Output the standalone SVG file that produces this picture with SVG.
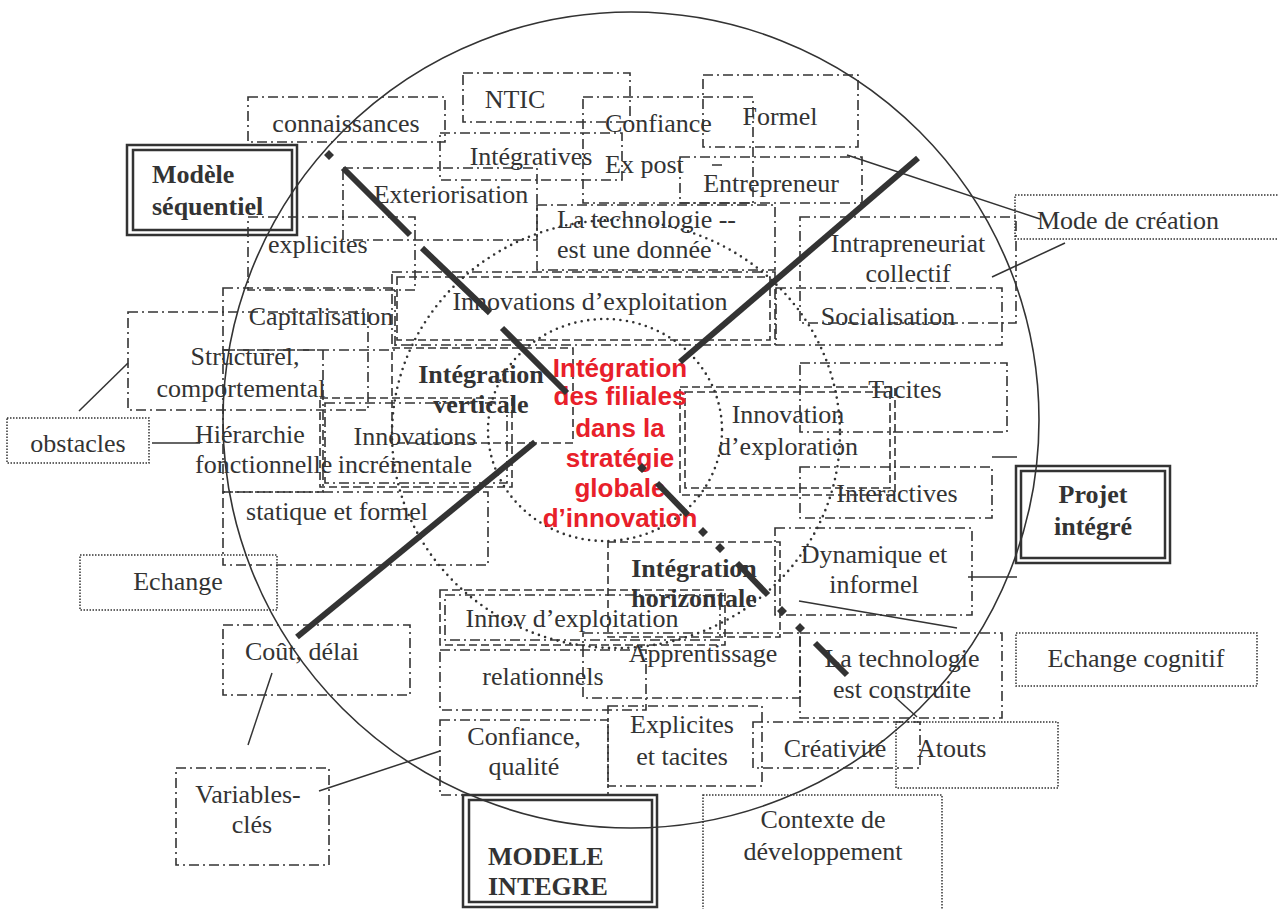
<svg xmlns="http://www.w3.org/2000/svg" width="1278" height="909" viewBox="0 0 1278 909">
<style>
.dd{fill:none;stroke:#333;stroke-width:1.6;stroke-dasharray:10 4 2 4}
.ds{fill:none;stroke:#333;stroke-width:1.6;stroke-dasharray:8 4}
.dt{fill:none;stroke:#333;stroke-width:1.5;stroke-dasharray:1.5 1.5}
.db{fill:none;stroke:#333;stroke-width:2.5}
.dots{fill:none;stroke:#333;stroke-width:2.6;stroke-linecap:round;stroke-dasharray:0 6.5}
.t{font-family:"Liberation Serif","Times New Roman",serif;font-size:26px;fill:#333}
.c{text-anchor:middle}
.b{font-weight:bold}
.r{font-family:"Liberation Sans",Arial,sans-serif;font-weight:bold;font-size:26px;fill:#e8202a;text-anchor:middle}
.thick{stroke:#333;stroke-width:6;fill:none}
.conn{stroke:#333;stroke-width:1.5;fill:none}
.dia{fill:#333}
</style>
<rect width="1278" height="909" fill="#fff"/>
<g id="background">
<circle cx="631" cy="420" r="408" fill="none" stroke="#333" stroke-width="1.6"/>
<ellipse class="dots" cx="616" cy="434" rx="224" ry="214"/>
<ellipse class="dots" cx="605" cy="430" rx="117" ry="111"/>
</g>
<g id="n-connaissances"><rect class="dd" x="248" y="97" width="197" height="45"/><text class="t c" x="346" y="132">connaissances</text></g>
<g id="n-ntic"><rect class="dd" x="463" y="73" width="167" height="49"/><text class="t c" x="515" y="108">NTIC</text></g>
<g id="n-confiance"><rect class="dd" x="583" y="97" width="170" height="106"/><text class="t" x="605" y="132">Confiance</text><text class="t" x="605" y="173">Ex post</text></g>
<g id="n-formel"><rect class="dd" x="703" y="75" width="155" height="72"/><text class="t c" x="780" y="125">Formel</text></g>
<g id="n-integratives"><rect class="dd" x="440" y="133" width="182" height="47"/><text class="t c" x="531" y="165">Intégratives</text></g>
<g id="n-entrepreneur"><rect class="dd" x="680" y="157" width="182" height="46"/><text class="t c" x="771" y="192">Entrepreneur</text><line class="conn" x1="712" y1="165" x2="722" y2="165" stroke-width="3"/></g>
<g id="n-exteriorisation"><rect class="dd" x="343" y="168" width="194" height="72"/><text class="t c" x="451" y="203">Exteriorisation</text></g>
<g id="n-explicites"><rect class="dd" x="248" y="217" width="167" height="73"/><text class="t" x="268" y="253">explicites</text></g>
<g id="n-technologie-donnee"><rect class="dd" x="537" y="205" width="238" height="65"/><text class="t" x="557" y="228">La technologie --</text><text class="t" x="557" y="258">est une donnée</text></g>
<g id="n-innovations-exploitation"><rect class="dd" x="392" y="272" width="383" height="73"/><rect class="ds" x="397" y="277" width="373" height="63"/><text class="t c" x="590" y="310">Innovations d’exploitation</text></g>
<g id="n-intrapreneuriat"><rect class="dd" x="800" y="217" width="216" height="106"/><text class="t c" x="908" y="252">Intrapreneuriat</text><text class="t c" x="908" y="282">collectif</text></g>
<g id="n-mode-creation"><rect class="dt" x="1015" y="195" width="265" height="44"/><text class="t" x="1037" y="229">Mode de création</text></g>
<g id="n-socialisation"><rect class="dd" x="776" y="288" width="226" height="57"/><text class="t c" x="888" y="325">Socialisation</text></g>
<g id="n-capitalisation"><rect class="dd" x="223" y="288" width="172" height="62"/><text class="t c" x="321" y="325">Capitalisation</text></g>
<g id="n-structurel"><rect class="dd" x="128" y="312" width="240" height="98"/><text class="t c" x="245" y="365">Structurel,</text><text class="t c" x="241" y="397">comportemental</text></g>
<g id="n-hierarchie"><rect class="dd" x="223" y="350" width="100" height="142"/><text class="t" x="195" y="443">Hiérarchie</text><text class="t" x="195" y="473">fonctionnelle</text></g>
<g id="n-integration-verticale"><rect class="ds" x="392" y="348" width="181" height="95"/><text class="t c b" x="481" y="383">Intégration</text><text class="t c b" x="481" y="413">verticale</text></g>
<g id="n-innovations-incrementale"><rect class="ds" x="320" y="398" width="192" height="89"/><rect class="dd" x="325" y="403" width="182" height="80"/><text class="t c" x="415" y="445">Innovations</text><text class="t c" x="405" y="473">incrémentale</text></g>
<g id="n-tacites"><rect class="dd" x="800" y="363" width="207" height="69"/><text class="t c" x="905" y="398">Tacites</text></g>
<g id="n-innovation-exploration"><rect class="ds" x="680" y="387" width="215" height="108"/><rect class="ds" x="685" y="392" width="205" height="96"/><text class="t c" x="788" y="423">Innovation</text><text class="t c" x="788" y="455">d’exploration</text></g>
<g id="n-interactives"><rect class="dd" x="800" y="467" width="192" height="51"/><text class="t c" x="897" y="502">Interactives</text></g>
<g id="n-statique"><rect class="dd" x="223" y="492" width="265" height="73"/><text class="t c" x="337" y="520">statique et formel</text></g>
<g id="n-echange"><rect class="dt" x="80" y="555" width="197" height="55"/><text class="t c" x="178" y="590">Echange</text></g>
<g id="n-dynamique"><rect class="dd" x="775" y="528" width="197" height="87"/><text class="t c" x="874" y="563">Dynamique et</text><text class="t c" x="874" y="593">informel</text></g>
<g id="n-projet-integre"><rect class="db" x="1016" y="466" width="154" height="97"/><rect class="db" x="1021" y="471" width="144" height="87"/><text class="t c b" x="1093" y="503">Projet</text><text class="t c b" x="1093" y="535">intégré</text></g>
<g id="n-integration-horizontale"><rect class="ds" x="608" y="542" width="172" height="95"/><text class="t c b" x="694" y="577">Intégration</text><text class="t c b" x="694" y="607">horizontale</text></g>
<g id="n-innov-exploitation"><rect class="ds" x="440" y="590" width="285" height="55"/><rect class="dd" x="445" y="595" width="275" height="45"/><text class="t c" x="572" y="627">Innov d’exploitation</text></g>
<g id="n-cout"><rect class="dd" x="223" y="625" width="187" height="70"/><text class="t c" x="302" y="660">Coût, délai</text></g>
<g id="n-apprentissage"><rect class="dd" x="583" y="633" width="217" height="65"/><text class="t c" x="703" y="662">Apprentissage</text></g>
<g id="n-technologie-construite"><rect class="dd" x="800" y="633" width="202" height="85"/><text class="t c" x="902" y="667">La technologie</text><text class="t c" x="902" y="698">est construite</text></g>
<g id="n-echange-cognitif"><rect class="dt" x="1016" y="633" width="241" height="53"/><text class="t c" x="1136" y="667">Echange cognitif</text></g>
<g id="n-relationnels"><rect class="dd" x="440" y="650" width="206" height="60"/><text class="t c" x="543" y="685">relationnels</text></g>
<g id="n-confiance-qualite"><rect class="dd" x="440" y="720" width="168" height="75"/><text class="t c" x="524" y="745">Confiance,</text><text class="t c" x="524" y="775">qualité</text></g>
<g id="n-explicites-tacites"><rect class="dd" x="608" y="706" width="154" height="80"/><text class="t c" x="682" y="733">Explicites</text><text class="t c" x="682" y="765">et tacites</text></g>
<g id="n-creativite"><rect class="dd" x="753" y="722" width="167" height="46"/><text class="t c" x="835" y="757">Créativité</text></g>
<g id="n-atouts"><rect class="dt" x="896" y="722" width="162" height="66"/><text class="t" x="917" y="757">Atouts</text></g>
<g id="n-variables"><rect class="dd" x="176" y="768" width="153" height="97"/><text class="t c" x="248" y="803">Variables-</text><text class="t c" x="252" y="833">clés</text></g>
<g id="n-modele-integre"><rect class="db" x="463" y="795" width="194" height="112"/><rect class="db" x="469" y="800" width="183" height="102"/><text class="t b" x="488" y="865">MODELE</text><text class="t b" x="488" y="895">INTEGRE</text></g>
<g id="n-contexte"><rect class="dt" x="703" y="795" width="239" height="120"/><text class="t c" x="823" y="828">Contexte de</text><text class="t c" x="823" y="860">développement</text></g>
<g id="n-obstacles"><rect class="dt" x="7" y="418" width="142" height="45"/><text class="t c" x="78" y="452">obstacles</text></g>
<g id="n-modele-sequentiel"><rect class="db" x="127" y="145" width="170" height="90"/><rect class="db" x="133" y="150" width="159" height="80"/><text class="t b" x="152" y="183">Modèle</text><text class="t b" x="152" y="215">séquentiel</text></g>
<g id="n-centre"><text class="r" x="620" y="377">Intégration</text><text class="r" x="620" y="405">des filiales</text><text class="r" x="620" y="437">dans la</text><text class="r" x="620" y="467">stratégie</text><text class="r" x="620" y="497">globale</text><text class="r" x="620" y="527">d’innovation</text></g>
<g id="axes">
<line class="thick" x1="343" y1="168" x2="410" y2="235"/>
<line class="thick" x1="422" y1="248" x2="490" y2="313"/>
<line class="thick" x1="502" y1="328" x2="567" y2="393"/>
<line class="thick" x1="657" y1="483" x2="688" y2="515"/>
<line class="thick" x1="737" y1="563" x2="768" y2="595"/>
<line class="thick" x1="815" y1="643" x2="847" y2="675"/>
<path class="dia" d="M329 150l5 5-5 5-5-5z M642 463l5 5-5 5-5-5z M703 527l5 5-5 5-5-5z M720 543l5 5-5 5-5-5z M782 606l5 5-5 5-5-5z M800 623l5 5-5 5-5-5z"/>
<line class="thick" x1="918" y1="158" x2="680" y2="362"/>
<line class="thick" x1="535" y1="442" x2="297" y2="637"/>
</g>
<g id="connectors">
<line class="conn" x1="847" y1="155" x2="1040" y2="219"/>
<line class="conn" x1="1065" y1="243" x2="992" y2="277"/>
<line class="conn" x1="79" y1="411" x2="128" y2="363"/>
<line class="conn" x1="152" y1="443" x2="200" y2="443"/>
<line class="conn" x1="272" y1="673" x2="248" y2="745"/>
<line class="conn" x1="319" y1="791" x2="440" y2="751"/>
<line class="conn" x1="968" y1="577" x2="1017" y2="577"/>
<line class="conn" x1="992" y1="457" x2="1017" y2="457"/>
<line class="conn" x1="799" y1="601" x2="957" y2="628"/>
<line class="conn" x1="895" y1="697" x2="917" y2="717"/>
</g>
</svg>
